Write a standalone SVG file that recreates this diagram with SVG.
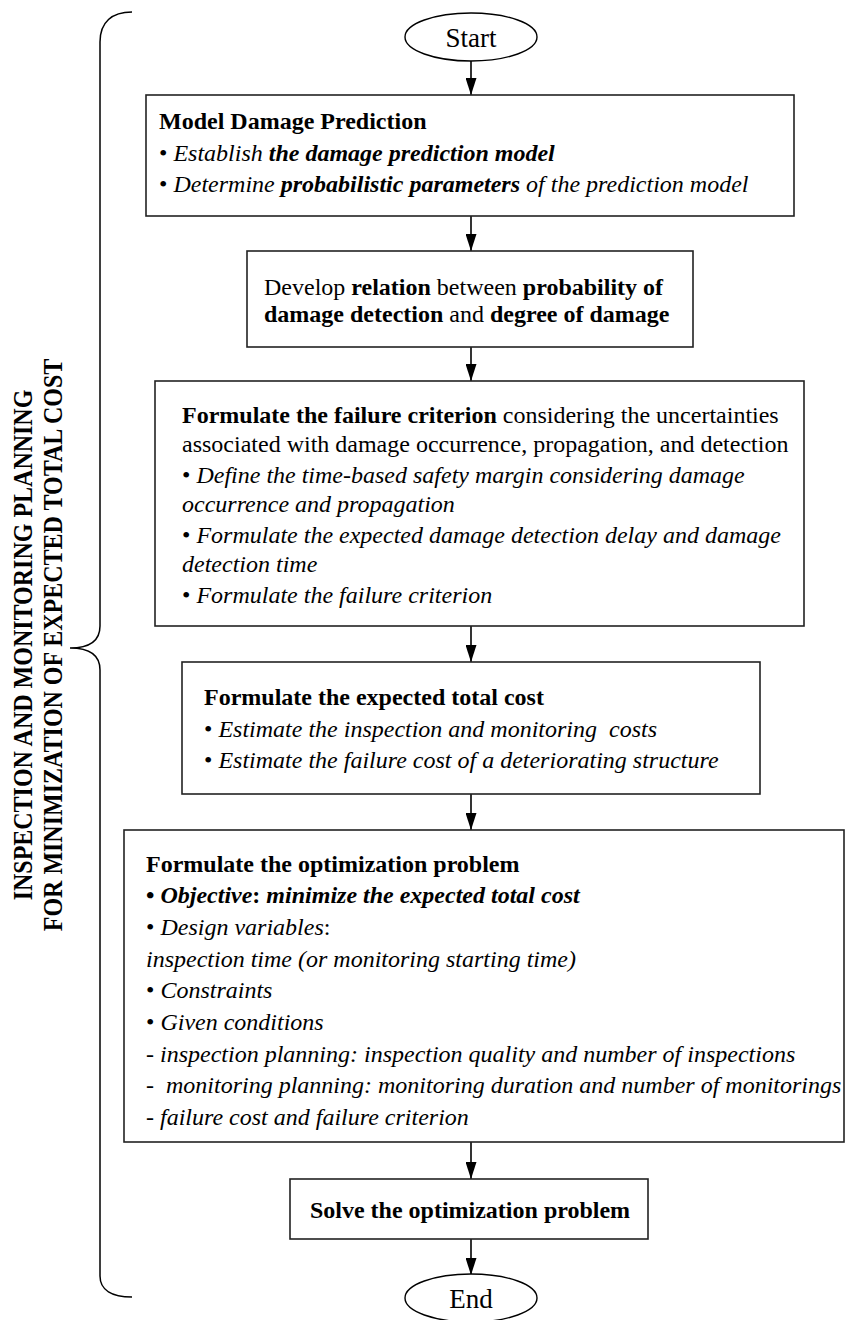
<svg xmlns="http://www.w3.org/2000/svg" width="846" height="1320" viewBox="0 0 846 1320">
<defs>
<marker id="arr" viewBox="0 0 11 17" refX="11" refY="5.5" markerWidth="11" markerHeight="17" markerUnits="userSpaceOnUse" orient="auto">
<path d="M0,0 L17,5.5 L0,11 Z" fill="#000"/>
</marker>
<marker id="ah" viewBox="0 0 17 11" refX="17" refY="5.5" markerWidth="17" markerHeight="11" markerUnits="userSpaceOnUse" orient="auto">
<path d="M0,0 L17,5.5 L0,11 Z" fill="#000"/>
</marker>
<style>
text{font-family:"Liberation Serif","Times New Roman",serif;font-size:24px;fill:#000}
.b{font-weight:bold}
.i{font-style:italic}
.bi{font-weight:bold;font-style:italic}
.box{fill:#fff;stroke:#222;stroke-width:1.6}
.ell{fill:#fff;stroke:#000;stroke-width:1.4}
.con{stroke:#000;stroke-width:1.6;fill:none}
.se{font-size:27px}
.rot{font-weight:bold;font-size:24px}
</style>
</defs>
<rect width="846" height="1320" fill="#fff"/>

<g id="bracket">
<path d="M132,12 C112,12 100,22 100,42 L100,626 C100,640 90,648 70,648 C90,648 100,656 100,670 L100,1276 C100,1290 112,1297 132,1297" fill="none" stroke="#000" stroke-width="1.5"/>
<text class="rot" transform="translate(32,645) rotate(-90) scale(1,1.12)" text-anchor="middle">INSPECTION AND MONITORING PLANNING</text>
<text class="rot" transform="translate(62,645) rotate(-90) scale(1,1.12)" text-anchor="middle">FOR MINIMIZATION OF EXPECTED TOTAL COST</text>
</g>

<g id="connectors">
<line class="con" x1="471" y1="61" x2="471" y2="95" marker-end="url(#ah)"/>
<line class="con" x1="471" y1="216" x2="471" y2="251" marker-end="url(#ah)"/>
<line class="con" x1="471" y1="347" x2="471" y2="381" marker-end="url(#ah)"/>
<line class="con" x1="471" y1="626" x2="471" y2="662" marker-end="url(#ah)"/>
<line class="con" x1="471" y1="794" x2="471" y2="830" marker-end="url(#ah)"/>
<line class="con" x1="471" y1="1142" x2="471" y2="1179" marker-end="url(#ah)"/>
<line class="con" x1="471" y1="1239" x2="471" y2="1275" marker-end="url(#ah)"/>
</g>

<g id="start">
<ellipse class="ell" cx="471" cy="37" rx="66" ry="24"/>
<text class="se" x="471" y="47" text-anchor="middle">Start</text>
</g>

<g id="model-damage">
<rect class="box" x="146" y="95" width="648" height="121"/>
<text x="159" y="129" class="b">Model Damage Prediction</text>
<text x="159" y="161" xml:space="preserve">• <tspan class="i">Establish </tspan><tspan class="bi">the damage prediction model</tspan></text>
<text x="159" y="192" xml:space="preserve">• <tspan class="i">Determine </tspan><tspan class="bi">probabilistic parameters</tspan><tspan class="i"> of the prediction model</tspan></text>
</g>

<g id="relation">
<rect class="box" x="247" y="251" width="446" height="96"/>
<text x="264" y="295" xml:space="preserve">Develop <tspan class="b">relation</tspan> between <tspan class="b">probability of</tspan></text>
<text x="264" y="322" xml:space="preserve"><tspan class="b">damage detection</tspan> and <tspan class="b">degree of damage</tspan></text>
</g>

<g id="failure-criterion">
<rect class="box" x="155" y="381" width="649" height="245"/>
<text x="182" y="423" xml:space="preserve"><tspan class="b">Formulate the failure criterion</tspan> considering the uncertainties</text>
<text x="182" y="452">associated with damage occurrence, propagation, and detection</text>
<text x="182" y="483" xml:space="preserve">• <tspan class="i">Define the time-based safety margin considering damage</tspan></text>
<text x="182" y="512" class="i">occurrence and propagation</text>
<text x="182" y="543" xml:space="preserve">• <tspan class="i">Formulate the expected damage detection delay and damage</tspan></text>
<text x="182" y="572" class="i">detection time</text>
<text x="182" y="603" xml:space="preserve">• <tspan class="i">Formulate the failure criterion</tspan></text>
</g>

<g id="total-cost">
<rect class="box" x="182" y="662" width="578" height="132"/>
<text x="204" y="705" class="b">Formulate the expected total cost</text>
<text x="204" y="737" xml:space="preserve">• <tspan class="i">Estimate the inspection and monitoring  costs</tspan></text>
<text x="204" y="768" xml:space="preserve">• <tspan class="i">Estimate the failure cost of a deteriorating structure</tspan></text>
</g>

<g id="optimization-problem">
<rect class="box" x="124" y="830" width="720" height="312"/>
<text x="146" y="872" class="b">Formulate the optimization problem</text>
<text x="146" y="903" xml:space="preserve" class="b">• <tspan class="bi">Objective</tspan>: <tspan class="bi">minimize the expected total cost</tspan></text>
<text x="146" y="935" xml:space="preserve">• <tspan class="i">Design variables</tspan>:</text>
<text x="146" y="967" class="i">inspection time (or monitoring starting time)</text>
<text x="146" y="998" xml:space="preserve">• <tspan class="i">Constraints</tspan></text>
<text x="146" y="1030" xml:space="preserve">• <tspan class="i">Given conditions</tspan></text>
<text x="146" y="1062" class="i" xml:space="preserve">- inspection planning: inspection quality and number of inspections</text>
<text x="146" y="1093" class="i" xml:space="preserve">-  monitoring planning: monitoring duration and number of monitorings</text>
<text x="146" y="1125" class="i" xml:space="preserve">- failure cost and failure criterion</text>
</g>

<g id="solve">
<rect class="box" x="290" y="1179" width="358" height="60"/>
<text x="470" y="1218" class="b" text-anchor="middle">Solve the optimization problem</text>
</g>

<g id="end">
<ellipse class="ell" cx="471" cy="1298" rx="66" ry="24"/>
<text class="se" x="471" y="1308" text-anchor="middle">End</text>
</g>
</svg>
